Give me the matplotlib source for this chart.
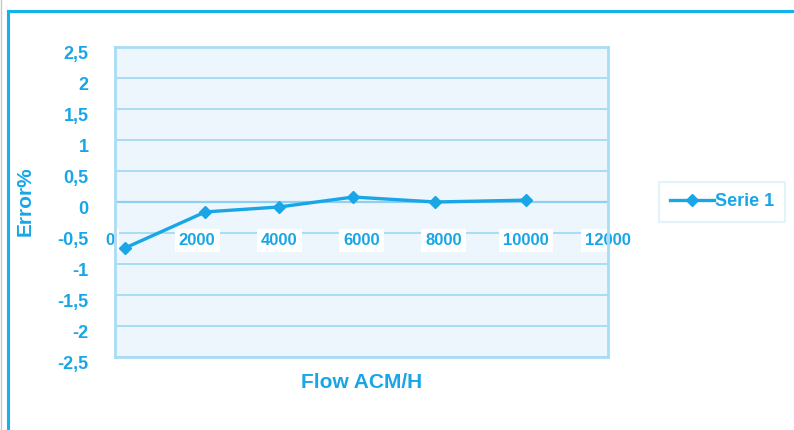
import matplotlib
matplotlib.use("Agg")
import matplotlib.pyplot as plt
from matplotlib.transforms import ScaledTranslation
from matplotlib.lines import Line2D

plt.rcParams['font.family'] = ['Liberation Sans', 'DejaVu Sans']

flow = [250, 2200, 4000, 5800, 7800, 10000]
error = [-0.74, -0.16, -0.08, 0.08, 0.0, 0.03]
xticks = [0, 2000, 4000, 6000, 8000, 10000, 12000]
yticks = [-2.5, -2, -1.5, -1, -0.5, 0, 0.5, 1, 1.5, 2, 2.5]
ytick_labels = ['-2,5', '-2', '-1,5', '-1', '-0,5', '0', '0,5', '1', '1,5', '2', '2,5']

TXT = '#18a6e6'
LINE = '#18a6e6'
GRID = '#a9dcf5'
FILL = '#edf6fc'

fig = plt.figure(figsize=(7.94, 4.30), dpi=100)
fig.patch.set_facecolor('white')

# outer frame lines (left and top)
fig.add_artist(Line2D([8/794, 8/794], [0, 1 - 11/430], transform=fig.transFigure, color='#12b2ef', lw=2.2))
fig.add_artist(Line2D([8/794, 1], [1 - 11/430, 1 - 11/430], transform=fig.transFigure, color='#12b2ef', lw=2.2))
fig.add_artist(Line2D([0.5/794, 0.5/794], [0, 1], transform=fig.transFigure, color='#c8c8c8', lw=1))

ax = fig.add_axes([115/794, 1 - 357/430, 493/794, 310/430])
ax.set_facecolor(FILL)
ax.set_xlim(0, 12000)
ax.set_ylim(-2.5, 2.5)
for s in ax.spines.values():
    s.set_color(GRID)
    s.set_linewidth(2)

ax.set_yticks(yticks)
ax.set_yticklabels(ytick_labels, fontsize=13, fontweight='bold', color=TXT)
ax.tick_params(axis='y', length=0, pad=19)
for lab in ax.get_yticklabels():
    lab.set_transform(lab.get_transform() + ScaledTranslation(0, -6/100, fig.dpi_scale_trans))
ax.yaxis.grid(True, color=GRID, lw=1.4)
ax.set_axisbelow(True)

ax.set_xticks([])
ax.axhline(0, color='#8fd0f2', lw=1.6, zorder=1)
for xt in xticks:
    ax.text(xt - (120 if xt == 0 else 0), -0.62, str(xt), ha='center', va='center', fontsize=12,
            fontweight='bold', color=TXT,
            bbox=dict(boxstyle='square,pad=0.25', fc='white', ec='none'),
            clip_on=False, zorder=2)

ax.plot(flow, error, color=LINE, lw=2.4, marker='D', markersize=6.5, zorder=3, label='Serie 1')

fig.text(25/794, 1 - 201/430, 'Error%', rotation=90, ha='center', va='center',
         fontsize=15, fontweight='bold', color=TXT)
fig.text(362/794, 1 - 382/430, 'Flow ACM/H', ha='center', va='center',
         fontsize=15, fontweight='bold', color=TXT)

leg = fig.legend(loc='center', bbox_to_anchor=(722/794, 1 - 202/430), frameon=True,
                 fontsize=13, handlelength=2.4, handletextpad=0.05, borderpad=0.35,
                 borderaxespad=0)
leg.get_frame().set_edgecolor('#dcf0fb')
leg.get_frame().set_linewidth(1.5)
leg.get_frame().set_boxstyle('square')
for t in leg.get_texts():
    t.set_color(TXT)
    t.set_fontweight('bold')

fig.savefig('out.png', dpi=100)
